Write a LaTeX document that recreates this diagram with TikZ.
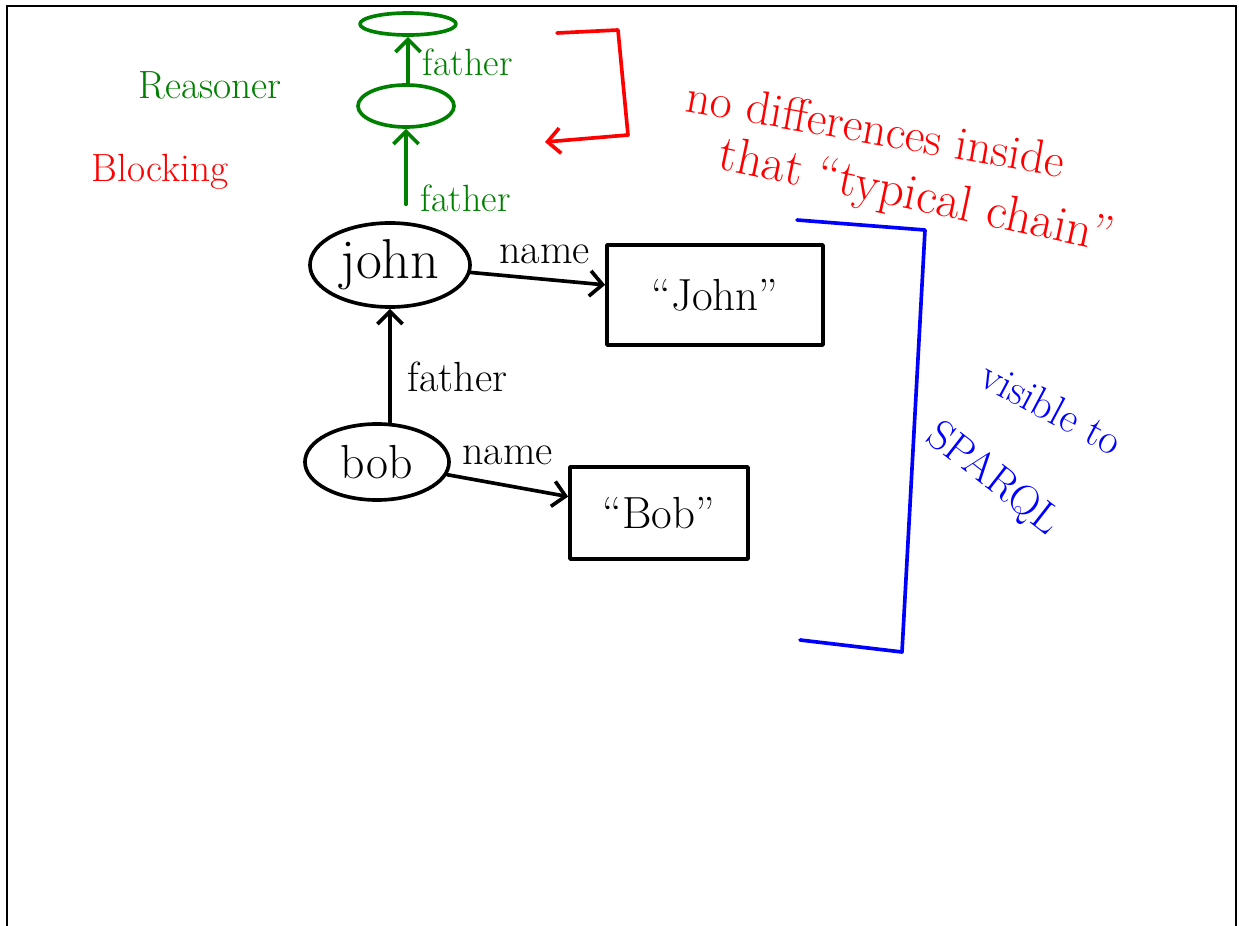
\documentclass[tikz,border=0pt]{standalone}
\usetikzlibrary{shapes.geometric,arrows.meta}
\definecolor{penred}{RGB}{255,0,0}
\definecolor{pengreen}{RGB}{0,128,0}
\definecolor{penblue}{RGB}{0,0,255}
\tikzset{
  pen/.style={line width=2.6pt, line cap=round, line join=round},
  blob/.style={pen, draw, ellipse, inner sep=0pt},
  valbox/.style={pen, draw, rectangle, inner sep=0pt},
  tip/.style={-{Straight Barb[length=9pt,width=18pt]}},
  big/.style={font=\fontsize{#1}{#1}\selectfont},
}
\begin{document}
\begin{tikzpicture}[x=0.025cm, y=-0.025cm]
  \useasboundingbox (0,0) rectangle (1239,926);
  \draw[line width=1.4pt] (7,926) -- (7,6) -- (1236,6) -- (1236,926);
  \draw
    (408,24) node[blob, draw=pengreen, minimum width=2.4cm, minimum height=0.55cm] (top){}
    (406,106) node[blob, draw=pengreen, minimum width=2.4cm, minimum height=1.05cm] (mid){}
    (390,265) node[blob, minimum width=4cm, minimum height=2.1cm, big=40] (john){john}
    (377,462) node[blob, minimum width=3.6cm, minimum height=1.9cm, big=34] (bob){bob}
    (715,295) node[valbox, minimum width=5.4cm, minimum height=2.5cm, big=32] (johnval){“John”}
    (659,513) node[valbox, minimum width=4.45cm, minimum height=2.3cm, big=32] (bobval){“Bob”};
  \draw
    (210,85) node[pengreen, big=28] (reasoner){Reasoner}
    (160,172) node[penred, big=28] (blocking){Blocking}
    (876,128) node[penred, rotate=-10, big=34] (nodiff){no differences inside}
    (916,198) node[penred, rotate=-12, big=36] (chain){that “typical chain”}
    (1052,408) node[penblue, rotate=-28, big=30] (visible){visible to}
    (993,480) node[penblue, rotate=-38, big=30] (sparql){SPARQL};
  \begin{scope}[pen, tip]
    \draw[pengreen] (mid.north -| top) -- node[pos=0.45, right=6pt, big=27]{father} (top.south);
    \draw[pengreen, shorten <=12pt] (john.north -| mid) -- node[pos=0.25, right=6pt, big=27]{father} (mid.south);
    \draw (bob.north -| john) -- node[pos=0.4, right=8pt, big=30]{father} (john.south);
    \draw (john) -- node[pos=0.55, above=6pt, big=30]{name} (johnval);
    \draw (bob) -- node[pos=0.5, above=10pt, big=30]{name} (bobval);
    \draw[penred] (557,33) -- (618,30) -- (628,135) -- (545,142);
  \end{scope}
  \draw[pen, penblue] (797,220) -- (925,230) -- (902,652) -- (800,640);
\end{tikzpicture}
\end{document}
